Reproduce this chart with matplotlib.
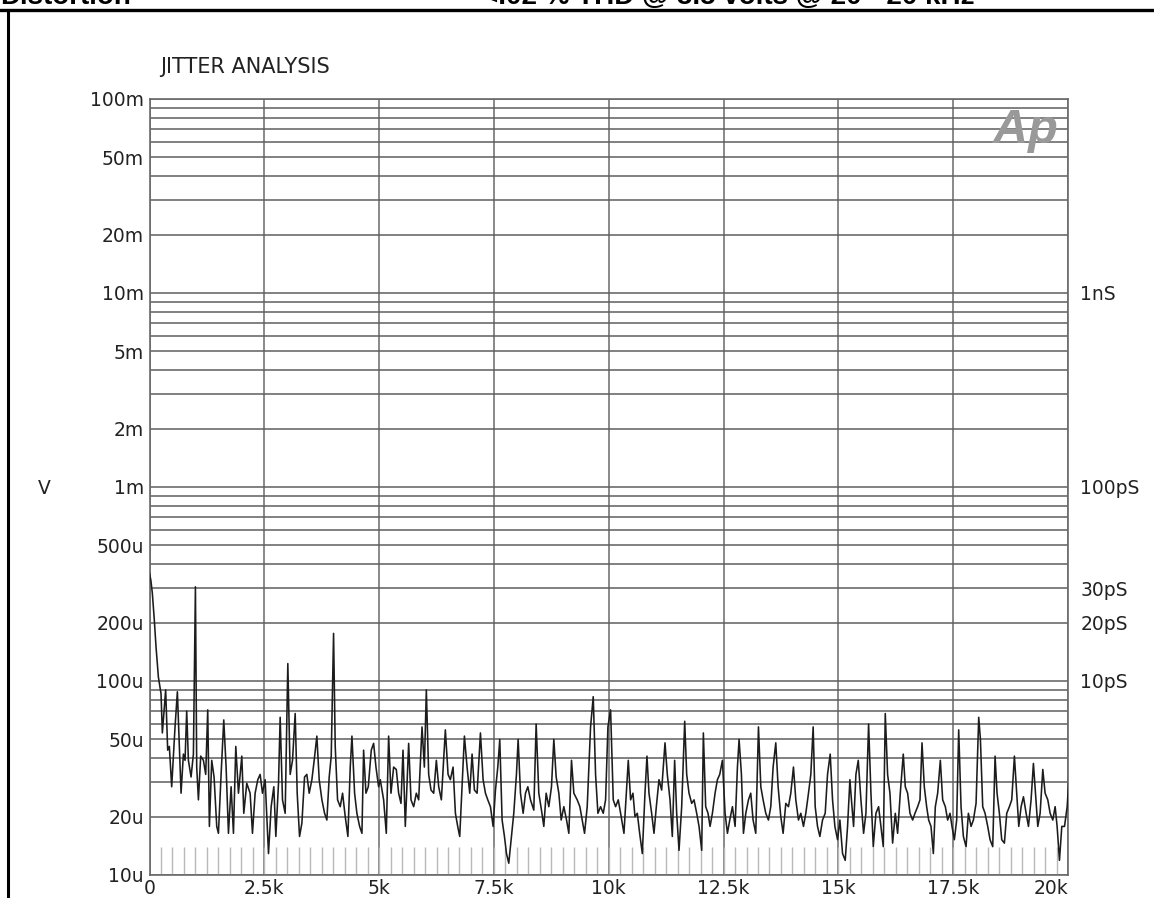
import matplotlib
matplotlib.use("Agg")
import matplotlib.pyplot as plt
from matplotlib.ticker import FixedLocator, FixedFormatter, LogLocator, NullFormatter
from matplotlib.lines import Line2D

# ---------------- data ----------------
freq_khz = [
    0.0, 0.03, 0.062, 0.105, 0.142, 0.193, 0.251, 0.280, 0.352, 0.396,
    0.432, 0.483, 0.556, 0.607, 0.650, 0.687, 0.738, 0.774, 0.810, 0.847,
    0.905, 0.956, 1.0, 1.028, 1.065, 1.115, 1.174, 1.224, 1.268, 1.304,
    1.355, 1.406, 1.464, 1.501, 1.559, 1.617, 1.668, 1.719, 1.777, 1.828,
    1.879, 1.937, 2.010, 2.053, 2.118, 2.191, 2.242, 2.300, 2.358, 2.409,
    2.460, 2.518, 2.591, 2.649, 2.707, 2.751, 2.809, 2.845, 2.896, 2.954,
    3.012, 3.063, 3.114, 3.172, 3.216, 3.267, 3.318, 3.376, 3.426, 3.477,
    3.536, 3.586, 3.644, 3.695, 3.754, 3.812, 3.862, 3.913, 3.957, 4.008,
    4.044, 4.095, 4.153, 4.204, 4.262, 4.320, 4.371, 4.408, 4.466, 4.516,
    4.575, 4.626, 4.662, 4.713, 4.764, 4.829, 4.880, 4.931, 4.989,
    5.025, 5.098, 5.156, 5.207, 5.258, 5.316, 5.374, 5.425, 5.476, 5.520,
    5.570, 5.643, 5.694, 5.752, 5.810, 5.861, 5.934, 5.985, 6.028, 6.079,
    6.130, 6.188, 6.246, 6.297, 6.355, 6.442, 6.501, 6.551, 6.610, 6.661,
    6.711, 6.755, 6.806, 6.857, 6.915, 6.973, 7.024, 7.075, 7.133, 7.206,
    7.264, 7.315, 7.366, 7.424, 7.482, 7.533, 7.584, 7.627, 7.678, 7.729,
    7.773, 7.823, 7.874, 7.932, 7.990, 8.027, 8.078, 8.136, 8.187, 8.238,
    8.296, 8.368, 8.419, 8.477, 8.535, 8.586, 8.637, 8.695, 8.753, 8.804,
    8.855, 8.913, 8.964, 9.022, 9.081, 9.131, 9.189, 9.240, 9.313, 9.371,
    9.422, 9.473, 9.531, 9.604, 9.662, 9.713, 9.764, 9.822, 9.880, 9.931,
    9.982, 10.040, 10.098,
    10.149, 10.207, 10.258, 10.331, 10.382, 10.425, 10.476, 10.527, 10.571, 10.622,
    10.673, 10.731, 10.789, 10.832, 10.876, 10.934, 10.985, 11.036, 11.094, 11.152,
    11.225, 11.275, 11.334, 11.384, 11.435, 11.479, 11.530, 11.588, 11.654, 11.697,
    11.748, 11.806, 11.857, 11.915, 11.966, 12.024, 12.060, 12.111, 12.162, 12.206,
    12.257, 12.315, 12.366, 12.417, 12.475, 12.533, 12.584, 12.635, 12.693, 12.751,
    12.802, 12.838, 12.889, 12.933, 12.984, 13.042, 13.092, 13.143, 13.201, 13.260,
    13.311, 13.361, 13.419, 13.477, 13.528, 13.579, 13.637, 13.688, 13.746, 13.797,
    13.855, 13.913, 13.964, 14.022, 14.073, 14.131, 14.182, 14.240, 14.291, 14.349,
    14.400, 14.451, 14.495, 14.546, 14.597, 14.655, 14.713, 14.764, 14.822, 14.873,
    14.924, 14.982, 15.033, 15.091, 15.149, 15.200, 15.251,
    15.273, 15.331, 15.382, 15.433, 15.491, 15.549, 15.600, 15.658, 15.709, 15.760,
    15.818, 15.876, 15.927, 15.978, 16.021, 16.072, 16.123, 16.181, 16.239, 16.290,
    16.348, 16.413, 16.457, 16.508, 16.559, 16.617, 16.668, 16.726, 16.777, 16.821,
    16.871, 16.922, 16.966, 17.017, 17.068, 17.111, 17.162, 17.220, 17.271, 17.329,
    17.380, 17.431, 17.474, 17.525, 17.576, 17.620, 17.671, 17.722, 17.780, 17.831,
    17.889, 17.940, 17.998, 18.056, 18.093, 18.143, 18.194, 18.252, 18.303, 18.361,
    18.412, 18.455, 18.506, 18.557, 18.615, 18.666, 18.724, 18.775, 18.833, 18.884,
    18.928, 18.979, 19.030, 19.088, 19.139, 19.196, 19.247, 19.291, 19.342, 19.393,
    19.451, 19.502, 19.560, 19.611, 19.669, 19.720, 19.763, 19.814, 19.865, 19.924,
    19.982, 20.025,
]

level_uv = [
    360, 330, 283, 206, 150, 105, 86, 54, 90, 44,
    46, 28.5, 58, 88, 46, 26.4, 42, 39, 70, 39,
    32, 42, 306, 36, 24.4, 41, 39, 33, 71, 17.8,
    39, 32, 17.8, 16.4, 33, 63, 36, 16.4, 28.5, 16.4,
    46, 26.4, 41, 20.8, 29.7, 26.4, 16.4, 26.4, 31, 33,
    26.4, 31, 12.9, 22.5, 28.5, 15.8, 29.7, 65, 24.4, 20.8,
    123, 33, 39, 68, 26.4, 15.8, 18.5, 32, 33, 26.4,
    31, 39, 52, 31, 24.4, 20.8, 19.2, 32, 41, 176,
    46, 24.4, 22.5, 26.4, 20, 15.8, 36, 52, 26.4, 20.8,
    17.8, 16.4, 44, 26.4, 28.5, 44, 47.7, 36, 28.5,
    31, 24.4, 16.4, 52, 26.4, 36, 35, 26.4, 23.4, 44,
    17.8, 47.7, 24.4, 22.5, 26.4, 24.4, 58, 36, 90, 33,
    27.4, 26.4, 39, 28.5, 24.4, 56, 33, 31, 36, 20.8,
    17.8, 15.8, 28.5, 52, 36, 26.4, 42, 27.4, 26.4, 54,
    31, 26.4, 24.4, 22.5, 17.8, 27.4, 36, 50, 19.2, 15.8,
    12.9, 11.5, 15.2, 20.8, 33, 50, 26.4, 20.8, 26.4, 28.5,
    24.4, 21.6, 60, 26.4, 21.6, 17.8, 26.4, 22.5, 28.5, 50,
    32, 26.4, 19.2, 22.5, 19.2, 16.4, 39, 26.4, 24.4, 22.5,
    19.2, 16.4, 22.5, 58, 83, 33, 20.8, 22.5, 20.8, 24.4,
    58, 71, 24.4,
    22.5, 24.4, 20.8, 16.4, 26.4, 39, 24.4, 26.4, 20, 20.8,
    16.4, 12.9, 26.4, 41, 26.4, 20.8, 16.4, 22.5, 31, 27.4,
    48, 33, 24.4, 15.8, 39, 20.8, 13.4, 22.5, 62, 33,
    26.4, 23.4, 24.4, 20.8, 17.8, 13.4, 54, 22.5, 20.8, 17.8,
    20.8, 26.4, 31, 33, 39, 20.8, 16.4, 19.2, 22.5, 17.8,
    36, 50, 33, 16.4, 20.8, 24.4, 26.4, 19.2, 16.4, 58,
    28.5, 24.4, 20.8, 19.2, 22.5, 36, 48, 28.5, 20, 16.4,
    23.4, 22.5, 26.4, 36, 24.4, 19.2, 20.8, 17.8, 20.8, 26.4,
    33, 58, 22.5, 17.8, 15.8, 19.2, 20.8, 33, 42, 24.4,
    17.8, 15.2, 19.2, 12.9, 11.9, 17.8, 31,
    26.4, 17.8, 33, 39, 24.4, 16.4, 20.8, 60, 26.4, 14.0,
    20.8, 22.5, 17.8, 14.0, 68, 33, 26.4, 14.6, 20.8, 16.4,
    26.4, 42, 28.5, 26.4, 20.8, 19.2, 20.8, 22.5, 24.4, 48,
    28.5, 22.5, 19.2, 17.8, 12.9, 22.5, 26.4, 39, 24.4, 22.5,
    19.2, 20.8, 17.8, 15.2, 19.2, 56, 22.5, 15.8, 14.0, 20.8,
    17.8, 19.2, 23.4, 65, 50, 22.5, 20.8, 17.8, 15.2, 14.0,
    41, 26.4, 20.8, 15.2, 14.6, 20.8, 22.5, 24.4, 41, 26.4,
    17.8, 22.5, 25.3, 20.8, 17.8, 24.4, 37.6, 26.4, 17.8, 20.8,
    35, 26.4, 24.4, 20.8, 19.2, 22.5, 17.8, 11.9, 17.8, 17.8,
    22.5, 33,
]

y_tick_values = [10e-6, 20e-6, 50e-6, 100e-6, 200e-6, 500e-6,
                 1e-3, 2e-3, 5e-3, 10e-3, 20e-3, 50e-3, 100e-3]
y_tick_labels = ["10u", "20u", "50u", "100u", "200u", "500u",
                 "1m", "2m", "5m", "10m", "20m", "50m", "100m"]
x_tick_values = [0, 2500, 5000, 7500, 10000, 12500, 15000, 17500, 20000]
x_tick_labels = ["0", "2.5k", "5k", "7.5k", "10k", "12.5k", "15k", "17.5k", "20k"]
jitter_values = [10e-3, 1e-3, 300e-6, 200e-6, 100e-6]
jitter_labels = ["1nS", "100pS", "30pS", "20pS", "10pS"]
floor_comb_hz = list(range(250, 20001, 250))
floor_comb_top_v = 14e-6

title_text = "JITTER ANALYSIS"
header_left = "Distortion"
header_right = "<.02 % THD @ 3.5 volts @ 20 - 20 kHz"

# ---------------- figure ----------------
W, H = 1154, 898
fig = plt.figure(figsize=(W / 100, H / 100), dpi=100)
fig.patch.set_facecolor("white")

ax = fig.add_axes([149.5 / W, 23 / H, (1068 - 149.5) / W, 776 / H])
ax.set_yscale("log")
ax.set_ylim(10e-6, 100e-3)
ax.set_xlim(0, 20000)

grid_c = "#5e5e5e"
ax.yaxis.set_major_locator(FixedLocator(y_tick_values))
ax.yaxis.set_major_formatter(FixedFormatter(y_tick_labels))
ax.yaxis.set_minor_locator(LogLocator(base=10, subs=[2, 3, 4, 5, 6, 7, 8, 9]))
ax.yaxis.set_minor_formatter(NullFormatter())
ax.xaxis.set_major_locator(FixedLocator(x_tick_values))
ax.xaxis.set_major_formatter(FixedFormatter(x_tick_labels))

ax.grid(True, which="both", axis="y", color=grid_c, lw=1.1)
ax.grid(True, which="major", axis="x", color="#6a6a6a", lw=1.1)
ax.set_axisbelow(True)

ax.tick_params(axis="both", which="both", length=0)
ax.tick_params(axis="y", labelsize=13.5, pad=4, labelcolor="#222222")
ax.tick_params(axis="x", labelsize=13.5, pad=3, labelcolor="#222222")
xt = ax.get_xticklabels()
xt[-1].set_ha("right")

for s in ax.spines.values():
    s.set_color("#6a6a6a")
    s.set_linewidth(1.2)

# floor comb (faint analyzer floor marks)
ax.vlines(floor_comb_hz, 10e-6, floor_comb_top_v, colors="#b8b8b8", lw=1.0, zorder=1)

# trace
fx = [f * 1000 for f in freq_khz]
fy = [v * 1e-6 for v in level_uv]
ax.plot(fx, fy, color="#1c1c1c", lw=1.15, zorder=3, clip_on=True)

# right jitter scale
ax2 = ax.twinx()
ax2.set_yscale("log")
ax2.set_ylim(10e-6, 100e-3)
ax2.yaxis.set_major_locator(FixedLocator(jitter_values))
ax2.yaxis.set_major_formatter(FixedFormatter(jitter_labels))
ax2.yaxis.set_minor_locator(FixedLocator([]))
ax2.tick_params(axis="y", length=0, labelsize=13.5, pad=9, labelcolor="#222222")
for s in ax2.spines.values():
    s.set_visible(False)

# texts
fig.text(160 / W, 1 - 67 / H, title_text, fontsize=15, ha="left", va="center", color="#222222")
fig.text(44 / W, 1 - 488 / H, "V", fontsize=13.5, ha="center", va="center", color="#222222")
fig.text(1058 / W, 1 - 143 / H, "Ap", fontsize=35, fontstyle="italic", fontweight="bold",
         color="#999999", ha="right", va="baseline", family=["Liberation Sans", "DejaVu Sans"])

# header of the page above the chart (cut off by the top edge, as in the reference)
fig.text(0 / W, 1 - 4 / H, header_left, fontsize=20, fontweight="bold", ha="left",
         va="baseline", color="black", family=["Liberation Sans", "DejaVu Sans"])
fig.text(482 / W, 1 - 4 / H, header_right, fontsize=20, fontweight="bold", ha="left",
         va="baseline", color="black", family=["Liberation Sans", "DejaVu Sans"])

# page frame lines
fig.add_artist(Line2D([0, 1], [1 - 10 / H, 1 - 10 / H], transform=fig.transFigure,
                      color="black", lw=2.4))
fig.add_artist(Line2D([8 / W, 8 / W], [0, 1 - 10 / H], transform=fig.transFigure,
                      color="black", lw=2.2))

fig.savefig("out.png", dpi=100, facecolor="white")
